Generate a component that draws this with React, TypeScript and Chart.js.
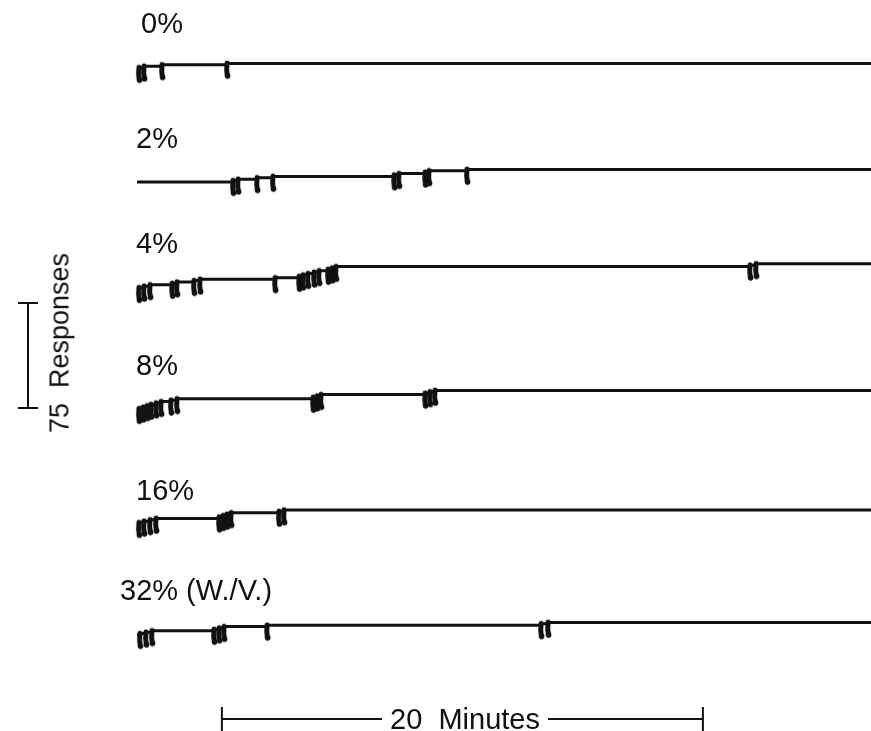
import React, { useEffect, useRef } from "react";
import { Chart, registerables } from "chart.js";

Chart.register(...registerables);

// ---------------- data ----------------
const RECORD_LABELS = ["0%", "2%", "4%", "8%", "16%", "32% (W./V.)"];

// response times (minutes into the session) for each record
const RESP_0 = [0.08, 0.29, 1.04, 3.74];
const RESP_2 = [3.99, 4.2, 4.99, 5.65, 10.69, 10.89, 11.98, 12.14, 13.72];
const RESP_4 = [
  0.08, 0.29, 0.54, 1.46, 1.66, 2.37, 2.62, 5.74, 6.74, 6.9, 7.11, 7.36, 7.57,
  7.94, 8.11, 8.27, 25.49, 25.74,
];
const RESP_8 = [
  0.08, 0.25, 0.42, 0.58, 0.79, 1.0, 1.41, 1.66, 7.32, 7.48, 7.65, 11.98, 12.18,
  12.39,
];
const RESP_16 = [0.08, 0.29, 0.54, 0.79, 3.41, 3.58, 3.74, 3.91, 5.9, 6.11];
const RESP_32 = [0.12, 0.37, 0.62, 3.2, 3.41, 3.62, 5.41, 16.8, 17.09];

const RESPONSES = [RESP_0, RESP_2, RESP_4, RESP_8, RESP_16, RESP_32];

const SESSION_MINUTES = 31;
const TIME_BAR_MINUTES = 20;
const TIME_BAR_START = 3.53;
const RESPONSE_BAR_COUNT = 75;
const TIME_BAR_LABEL = "20\u00a0\u00a0Minutes";
const RESPONSE_BAR_LABEL = "75\u00a0\u00a0Responses";

// ---------------- layout ----------------
const W = 871;
const H = 731;
const X0_PX = 137;
const PX_PER_MIN = 24.05;
const PX_PER_RESP = 1.4;
const ROW_START_PX = [69, 182, 289, 410, 524, 635];
const LABEL_POS: [number, number][] = [
  [141, 23],
  [136, 138],
  [136, 243],
  [136, 365],
  [136, 490],
  [120, 590],
];
const TIME_BAR_Y_PX = 719;
const RESP_BAR_X_PX = 28;
const RESP_BAR_BOTTOM_PX = 408;
const FONT = '"Liberation Sans", Arial, sans-serif';
const FONT_SIZE = 29;
const SIDE_FONT_SIZE = 27;
const INK = "#111";

const yFromPx = (py: number) => (H - py) / PX_PER_RESP;
const xFromPx = (px: number) => (px - X0_PX) / PX_PER_MIN;

function makeHatch(): HTMLCanvasElement {
  const c = document.createElement("canvas");
  c.width = 12;
  c.height = 34;
  const ctx = c.getContext("2d")!;
  ctx.strokeStyle = INK;
  ctx.fillStyle = INK;
  ctx.lineCap = "round";
  ctx.lineWidth = 5;
  ctx.beginPath();
  ctx.moveTo(6, 16);
  ctx.quadraticCurveTo(5.2, 23, 6.4, 29);
  ctx.stroke();
  ctx.beginPath();
  ctx.arc(6.6, 28.8, 2.8, 0, Math.PI * 2);
  ctx.fill();
  return c;
}

export default function App() {
  const ref = useRef<HTMLCanvasElement>(null);

  useEffect(() => {
    const canvas = ref.current!;
    const hatch = makeHatch();
    const datasets: any[] = [];

    RESPONSES.forEach((times, r) => {
      const base = yFromPx(ROW_START_PX[r]);
      const line = [{ x: 0, y: base }];
      times.forEach((t, i) => line.push({ x: t, y: base + i + 1 }));
      line.push({ x: SESSION_MINUTES, y: base + times.length });
      datasets.push({
        type: "line",
        data: line,
        borderColor: INK,
        borderWidth: 3,
        pointRadius: 0,
        stepped: "before",
        tension: 0,
      });
      datasets.push({
        type: "line",
        data: times.map((t, i) => ({ x: t, y: base + i + 0.5 })),
        showLine: false,
        pointStyle: hatch,
        pointRadius: 6,
        borderColor: INK,
        backgroundColor: INK,
      });
    });

    // time scale bar
    const ty = yFromPx(TIME_BAR_Y_PX);
    datasets.push({
      type: "line",
      data: [
        { x: TIME_BAR_START, y: ty },
        { x: TIME_BAR_START + TIME_BAR_MINUTES, y: ty },
      ],
      borderColor: INK,
      borderWidth: 2,
      pointStyle: "line",
      rotation: 90,
      pointRadius: 12,
      pointBorderWidth: 2,
      pointBorderColor: INK,
    });

    // response scale bar
    const rx = xFromPx(RESP_BAR_X_PX);
    const ry = yFromPx(RESP_BAR_BOTTOM_PX);
    datasets.push({
      type: "line",
      data: [
        { x: rx, y: ry },
        { x: rx, y: ry + RESPONSE_BAR_COUNT },
      ],
      borderColor: INK,
      borderWidth: 2,
      pointStyle: "line",
      rotation: 0,
      pointRadius: 10,
      pointBorderWidth: 2,
      pointBorderColor: INK,
    });

    const chart = new Chart(canvas, {
      type: "line",
      data: { datasets },
      options: {
        animation: false,
        responsive: false,
        devicePixelRatio: 1,
        events: [],
        layout: { padding: 0, autoPadding: false },
        plugins: { legend: { display: false }, tooltip: { enabled: false } },
        scales: {
          x: {
            type: "linear",
            display: false,
            min: xFromPx(0),
            max: xFromPx(W),
          },
          y: { type: "linear", display: false, min: 0, max: H / PX_PER_RESP },
        },
      },
    });
    return () => chart.destroy();
  }, []);

  const text: React.CSSProperties = {
    position: "absolute",
    fontFamily: FONT,
    fontSize: FONT_SIZE,
    lineHeight: 1,
    color: INK,
    whiteSpace: "nowrap",
  };

  return (
    <div
      style={{
        position: "absolute",
        left: 0,
        top: 0,
        width: W,
        height: H,
        background: "#fff",
      }}
    >
      <canvas ref={ref} width={W} height={H} style={{ position: "absolute", left: 0, top: 0 }} />
      {RECORD_LABELS.map((lab, i) => (
        <div
          key={lab}
          style={{ ...text, left: LABEL_POS[i][0], top: LABEL_POS[i][1] - FONT_SIZE / 2 }}
        >
          {lab}
        </div>
      ))}
      <div
        style={{
          ...text,
          left: 465,
          top: TIME_BAR_Y_PX,
          transform: "translate(-50%, -50%)",
          background: "#fff",
          padding: "0 8px",
        }}
      >
        {TIME_BAR_LABEL}
      </div>
      <div
        style={{
          ...text,
          fontSize: SIDE_FONT_SIZE,
          left: 60,
          top: 343,
          transform: "translate(-50%, -50%) rotate(-90deg)",
        }}
      >
        {RESPONSE_BAR_LABEL}
      </div>
    </div>
  );
}
